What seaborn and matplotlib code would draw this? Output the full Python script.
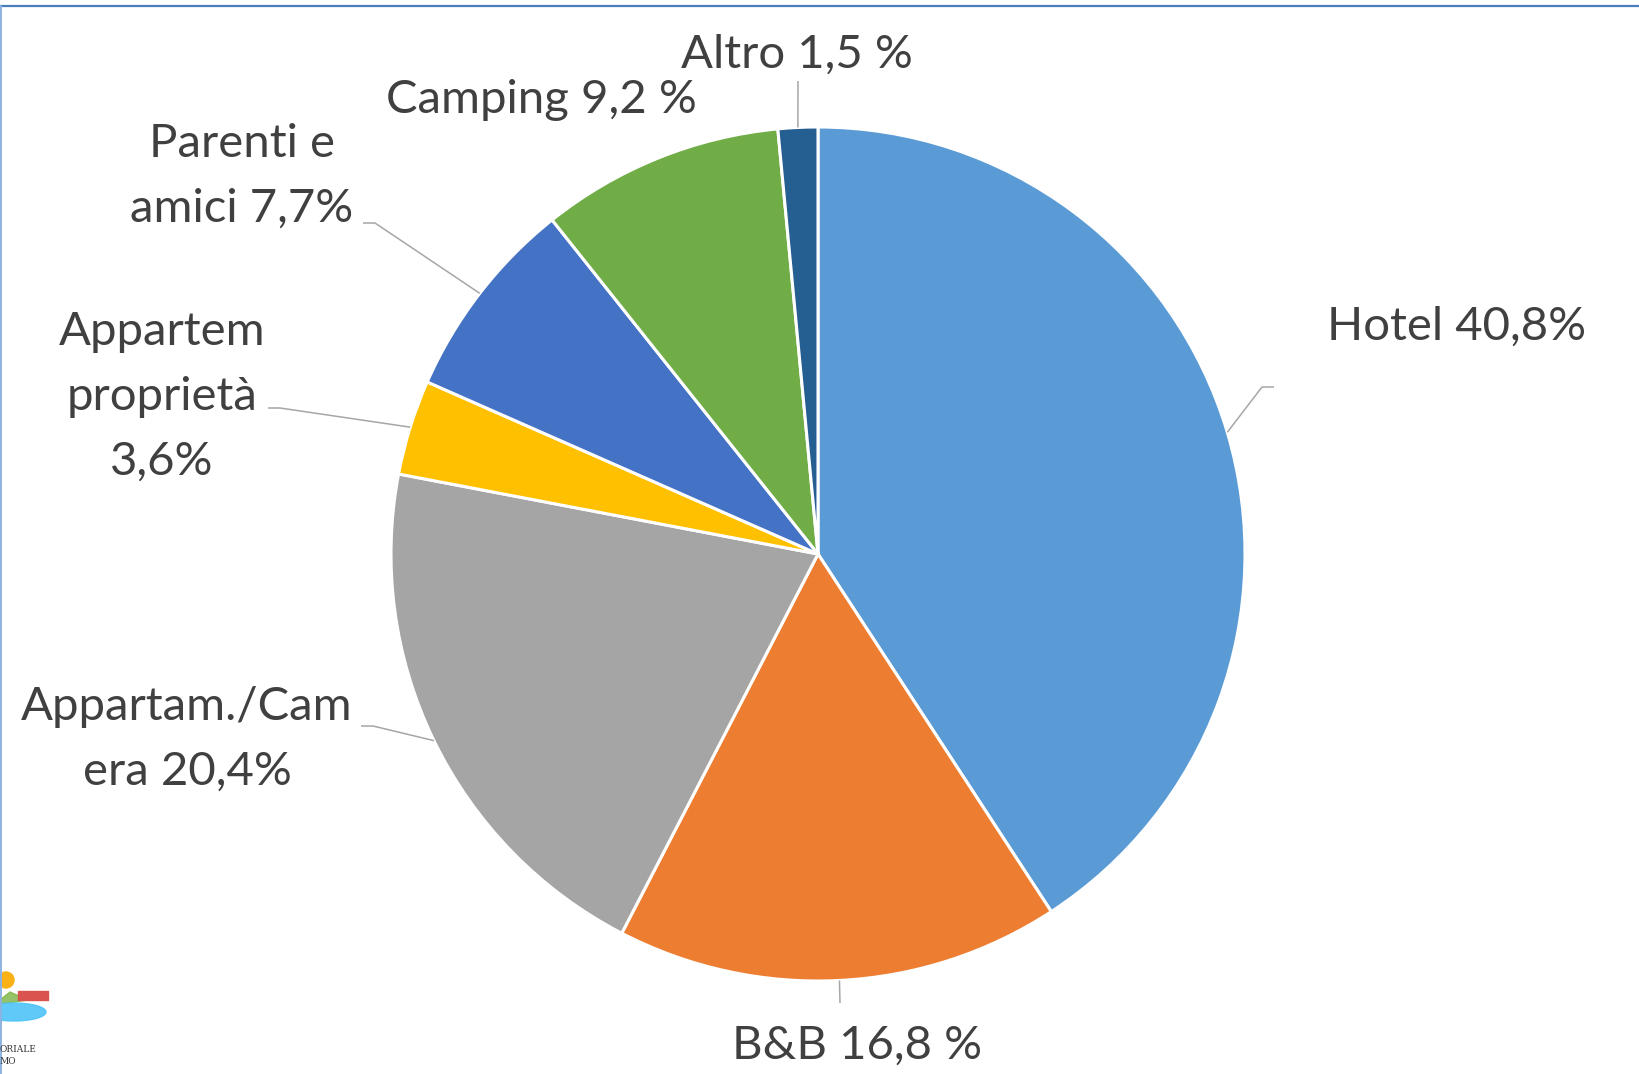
import matplotlib.pyplot as plt
import numpy as np
import seaborn as sns
from matplotlib.patches import Circle, Ellipse, Rectangle, Polygon

# data
categories = ["Hotel", "B&B", "Appartam./Camera", "Appartem proprietà",
              "Parenti e amici", "Camping", "Altro"]
shares = [40.8, 16.8, 20.4, 3.6, 7.7, 9.2, 1.5]
label_texts = ["Hotel 40,8%", "B&B 16,8 %", "Appartam./Cam\nera 20,4%",
               "Appartem\nproprietà\n3,6%", "Parenti e\namici 7,7%",
               "Camping 9,2 %", "Altro 1,5 %"]
colors = ["#5B9BD5", "#ED7D31", "#A5A5A5", "#FFC000", "#4472C4", "#70AD47", "#255E91"]

# layout (pixels, measured from the top-left corner)
W, H = 1640, 1074
CX, CY, R = 818, 554, 427
label_pos = [(1457, 340), (857, 1059), (187, 720), (162, 345),
             (242, 157), (541, 113), (797, 68)]
leader_pts = [[(1262, 387), (1274, 387)], [(840, 1003)], [(373, 726), (361, 726)],
              [(280, 408), (268, 408)], [(375, 223), (363, 223)], None, [(798, 81)]]
LINE_GAP = 65

sns.set_theme(style="white")
plt.rcParams["font.family"] = ["Lato", "DejaVu Sans"]

fig = plt.figure(figsize=(W / 100, H / 100), dpi=100)
ax = fig.add_axes([0, 0, 1, 1])

wedges, _ = ax.pie(shares, colors=sns.color_palette(colors), startangle=90,
                   counterclock=False, center=(CX, H - CY), radius=R,
                   wedgeprops=dict(edgecolor="white", linewidth=2.2))
ax.set_xlim(0, W)
ax.set_ylim(0, H)
ax.axis("off")

for wedge, text, (lx, ly), pts in zip(wedges, label_texts, label_pos, leader_pts):
    for i, line in enumerate(text.split("\n")):
        ax.text(lx, H - (ly + i * LINE_GAP), line, ha="center", va="baseline",
                fontsize=34, color="#404040")
    if pts is None:
        continue
    mid = np.deg2rad((wedge.theta1 + wedge.theta2) / 2)
    xs = [CX + R * np.cos(mid)] + [p[0] for p in pts]
    ys = [H - CY + R * np.sin(mid)] + [H - p[1] for p in pts]
    ax.plot(xs, ys, color="#A6A6A6", lw=1.1, solid_capstyle="butt")

# frame edges visible in the crop
ax.plot([0, W], [H - 6, H - 6], color="#4A7EBB", lw=1.6)
ax.plot([1, 1], [0, H - 6], color="#8DB3E2", lw=1.4)

# partial logo at bottom left
ax.add_patch(Polygon([(0, H - 1000), (10, H - 992), (28, H - 1000), (0, H - 1004)],
                     color="#7CB342", alpha=0.8))
ax.add_patch(Circle((6, H - 980), 8, color="#F9B115"))
ax.add_patch(Rectangle((18, H - 1000), 30, 9, color="#D9534F"))
ax.add_patch(Ellipse((14, H - 1012), 64, 18, color="#4FC3F7", alpha=0.9))
ax.text(0, H - 1052, "ORIALE", fontsize=6.5, family="DejaVu Serif", color="#333333")
ax.text(0, H - 1064, "MO", fontsize=6.5, family="DejaVu Serif", color="#333333")

fig.savefig("out.png", dpi=100)
